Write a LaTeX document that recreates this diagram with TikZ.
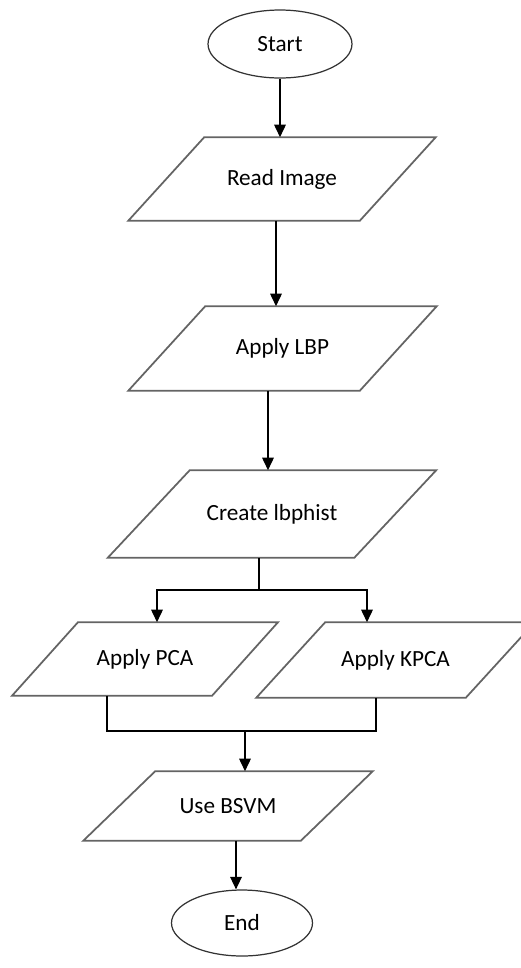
\documentclass[tikz,border=0pt]{standalone}
\usepackage{fontspec}
\setmainfont{Carlito}
\usetikzlibrary{arrows.meta,shapes.geometric}
\definecolor{fgray}{RGB}{100,100,100}

% slanted input/output frame round a node
\newcommand{\ioframe}[2]{%
  \draw[ioline] ([xshift=#2]#1.north west) -- ([xshift=#2]#1.north east)
    -- ([xshift=-#2]#1.south east) -- ([xshift=-#2]#1.south west) -- cycle;}

\begin{document}
\begin{tikzpicture}[x=0.02cm, y=-0.02cm, >={Triangle[length=2.5mm, width=2.3mm]}, line width=0.9pt,
  term/.style={ellipse, draw=black!80, line width=0.7pt, inner sep=0pt, font=\fontsize{13.2}{15}\selectfont},
  io/.style={rectangle, inner sep=0pt, font=\fontsize{13.2}{15}\selectfont},
  ioline/.style={draw=fgray, line width=1pt, line join=miter}]
\useasboundingbox (0,0) rectangle (521,968);

\node[term, minimum width=2.88cm, minimum height=1.36cm] (start) at (280,44) {Start};
\node[io, minimum width=4.6cm, minimum height=1.64cm] (read) at (282,179) {Read Image};
\node[io, minimum width=4.6cm, minimum height=1.66cm] (lbp) at (282.5,348.5) {Apply LBP};
\node[io, minimum width=4.9cm, minimum height=1.72cm] (hist) at (272,514) {Create lbphist};
\node[io, minimum width=3.97cm, minimum height=1.44cm] (pca) at (145,659) {Apply PCA\hspace{0.5cm}};
\node[io, minimum width=4.16cm, minimum height=1.48cm] (kpca) at (395.5,660) {Apply KPCA\hspace{0.42cm}};
\node[io, minimum width=4.32cm, minimum height=1.36cm] (bsvm) at (228,806) {Use BSVM};
\node[term, minimum width=2.82cm, minimum height=1.32cm] (end) at (242,923) {End};

\ioframe{read}{0.76cm}
\ioframe{lbp}{0.77cm}
\ioframe{hist}{0.82cm}
\ioframe{pca}{0.66cm}
\ioframe{kpca}{0.69cm}
\ioframe{bsvm}{0.72cm}

% branch points
\coordinate (fork) at (259,590);
\coordinate (forkL) at (157,590);
\coordinate (forkR) at (367,590);
\coordinate (joinL) at (107,731);
\coordinate (joinR) at (376,731);
\coordinate (join) at (245,731);

\draw[->] (start.south) -- (start.south |- read.north);
\draw[->] ([xshift=-0.12cm]read.south) -- ([xshift=-0.12cm]read.south |- lbp.north);
\draw[->] ([xshift=-0.08cm]hist.north |- lbp.south) -- ([xshift=-0.08cm]hist.north);
\draw (fork |- hist.south) -- (fork);
\draw[->] (fork) -| (forkL |- pca.north);
\draw[->] (fork) -| (forkR |- kpca.north);
\draw (joinL |- pca.south) -- (joinL) -- (joinR) -- (joinR |- kpca.south);
\draw[->] (join) -- (join |- bsvm.north);
\draw[->] ([xshift=-0.12cm]end.north |- bsvm.south) -- ([xshift=-0.12cm]end.north);
\end{tikzpicture}
\end{document}
